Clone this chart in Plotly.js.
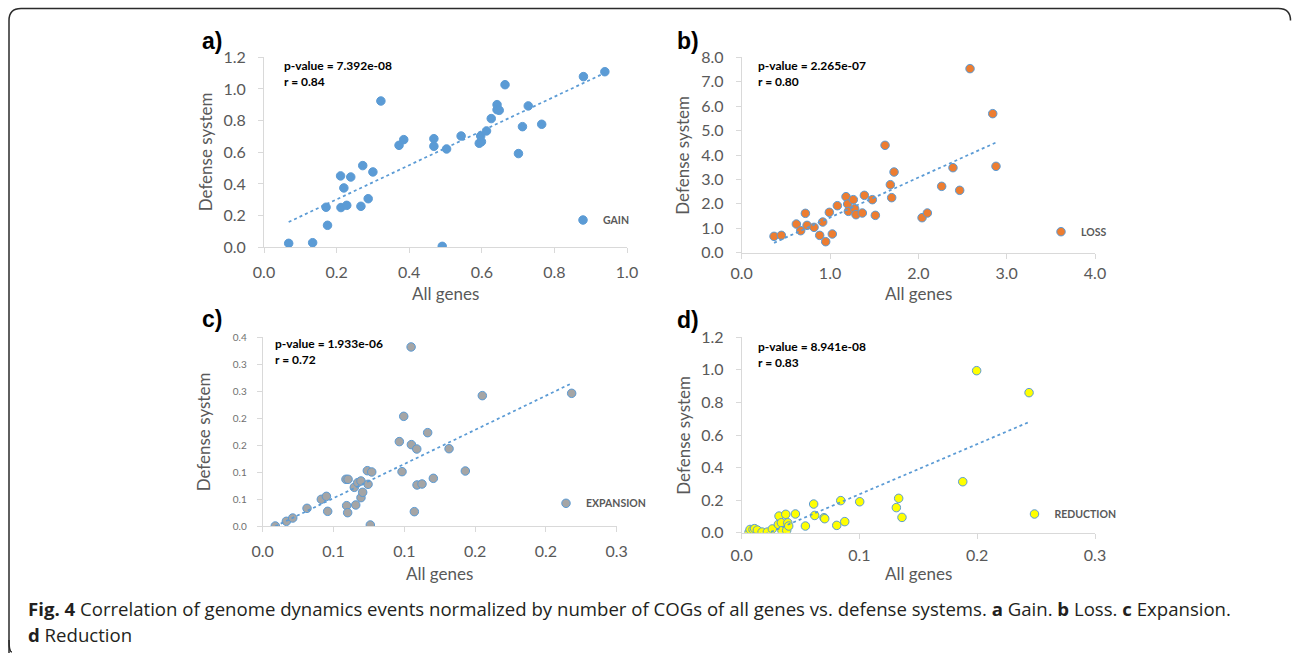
<!DOCTYPE html>
<html>
<head>
<meta charset="utf-8">
<script src="https://cdn.plot.ly/plotly-3.0.1.min.js"></script>
<style>html,body{margin:0;padding:0;background:#fff;}#chart{width:1292px;height:653px;}</style>
</head>
<body>
<div id="chart"></div>
<script>
// ---------------- data ----------------
const gainX = [0.068,0.134,0.175,0.171,0.212,0.228,0.211,0.220,0.239,0.267,0.272,0.287,0.300,0.322,0.372,0.385,0.468,0.468,0.491,0.503,0.543,0.593,0.599,0.597,0.613,0.626,0.642,0.642,0.648,0.664,0.701,0.712,0.728,0.765,0.880,0.939];
const gainY = [0.025,0.029,0.139,0.253,0.251,0.265,0.451,0.375,0.444,0.259,0.516,0.307,0.476,0.924,0.644,0.680,0.686,0.638,0.006,0.621,0.703,0.657,0.667,0.703,0.735,0.813,0.901,0.869,0.865,1.027,0.592,0.762,0.893,0.777,1.078,1.109];

const lossX = [0.366,0.449,0.619,0.668,0.721,0.740,0.819,0.883,0.917,0.951,0.992,1.026,1.083,1.181,1.200,1.208,1.264,1.279,1.294,1.366,1.389,1.479,1.513,1.623,1.683,1.698,1.725,2.042,2.102,2.264,2.392,2.468,2.585,2.842,2.879];
const lossY = [0.669,0.710,1.174,0.901,1.611,1.119,1.038,0.710,1.256,0.451,1.652,0.765,1.925,2.294,1.993,1.693,2.171,1.802,1.556,1.625,2.348,2.171,1.529,4.396,2.785,2.253,3.304,1.433,1.625,2.717,3.481,2.553,7.536,5.693,3.536];

const expX = [0.0089,0.0167,0.0212,0.0313,0.0414,0.0450,0.0459,0.0588,0.0603,0.0593,0.0600,0.0647,0.0657,0.0671,0.0694,0.0694,0.0706,0.0739,0.0744,0.0770,0.0760,0.0965,0.0984,0.0996,0.1048,0.1050,0.1071,0.1088,0.1090,0.1125,0.1165,0.1205,0.1316,0.1431,0.1551,0.2182];
const expY = [0.0000,0.0087,0.0148,0.0328,0.0495,0.0550,0.0272,0.0866,0.0866,0.0377,0.0247,0.0717,0.0390,0.0804,0.0835,0.0526,0.0625,0.1026,0.0773,0.1002,0.0019,0.1565,0.1008,0.2034,0.3321,0.1509,0.0266,0.1428,0.0761,0.0779,0.1731,0.0884,0.1434,0.1020,0.2418,0.2461];

const redX = [0.0062,0.0071,0.0096,0.0110,0.0133,0.0173,0.0218,0.0260,0.0311,0.0317,0.0337,0.0342,0.0374,0.0382,0.0391,0.0399,0.0456,0.0541,0.0611,0.0620,0.0699,0.0705,0.0807,0.0841,0.0875,0.1002,0.1313,0.1333,0.1361,0.1877,0.1995,0.2440];
const redY = [0.002,0.020,0.020,0.025,0.016,0.004,0.004,0.023,0.051,0.102,0.061,0.012,0.113,0.014,0.061,0.041,0.115,0.041,0.176,0.106,0.092,0.086,0.045,0.197,0.068,0.190,0.154,0.211,0.094,0.313,0.995,0.860];

const seriesNames = ['GAIN','LOSS','EXPANSION','REDUCTION'];
const panelLabels = ['a)','b)','c)','d)'];
const pValues = ['7.392e-08','2.265e-07','1.933e-06','8.941e-08'];
const rValues = ['0.84','0.80','0.72','0.83'];

// panel c uses rounded (1 decimal) labels on 0.05 steps
const cYTickVals = [0,0.05,0.10,0.15,0.20,0.25,0.30,0.35];
const cYTickText = ['0.0','0.1','0.1','0.2','0.2','0.3','0.3','0.4'];
const cXTickVals = [0,0.05,0.10,0.15,0.20,0.25];
const cXTickText = ['0.0','0.1','0.1','0.2','0.2','0.3'];

const caption1 = '<b>Fig. 4</b> Correlation of genome dynamics events normalized by number of COGs of all genes vs. defense systems. <b>a</b> Gain. <b>b</b> Loss. <b>c</b> Expansion.';
const caption2 = '<b>d</b> Reduction';

// ---------------- layout helpers ----------------
const W = 1292, H = 653;
const fx = p => p / W;
const fy = p => 1 - p / H;

// plot-area boxes in pixels [left, right, top, bottom]
const boxes = [
  [264, 627, 57.3, 247.3],
  [741.7, 1095, 57.3, 252.7],
  [262.7, 616.7, 337.3, 526],
  [741.7, 1095, 337.3, 532.7]
];
const xTitleY = [293, 293, 573, 573];
const xStandoff = [5, 1, 6, 3];

function fit(xs, ys) {
  const n = xs.length;
  let sx = 0, sy = 0, sxx = 0, sxy = 0;
  for (let i = 0; i < n; i++) { sx += xs[i]; sy += ys[i]; sxx += xs[i]*xs[i]; sxy += xs[i]*ys[i]; }
  const b = (n*sxy - sx*sy) / (n*sxx - sx*sx);
  const a = (sy - b*sx) / n;
  const x0 = Math.min(...xs), x1 = Math.max(...xs);
  return {x: [x0, x1], y: [a + b*x0, a + b*x1]};
}

const BLUE = '#5B9BD5';
const markerStyles = [
  {color: BLUE, size: 8.5, line: {color: BLUE, width: 1}},
  {color: '#ED7D31', size: 8.5, line: {color: BLUE, width: 1}},
  {color: '#A5A5A5', size: 8.5, line: {color: BLUE, width: 1}},
  {color: '#FFFF00', size: 8.5, line: {color: BLUE, width: 1}}
];
const dataSets = [[gainX, gainY], [lossX, lossY], [expX, expY], [redX, redY]];
const axisIds = [['x','y'], ['x2','y2'], ['x3','y3'], ['x4','y4']];
const legendIds = ['legend','legend2','legend3','legend4'];

const traces = [];
dataSets.forEach((d, i) => {
  traces.push({
    type: 'scatter', mode: 'markers', x: d[0], y: d[1],
    xaxis: axisIds[i][0], yaxis: axisIds[i][1],
    name: seriesNames[i], legend: legendIds[i],
    marker: markerStyles[i], hoverinfo: 'x+y'
  });
  const f = fit(d[0], d[1]);
  traces.push({
    type: 'scatter', mode: 'lines', x: f.x, y: f.y,
    xaxis: axisIds[i][0], yaxis: axisIds[i][1],
    showlegend: false, hoverinfo: 'skip',
    line: {color: BLUE, width: 1.75, dash: 'dot'}
  });
});

const GRAY = '#595959';
const tickFont = {family: 'Lato, sans-serif', size: 16, color: GRAY};
function xAxis(i, extra) {
  const b = boxes[i];
  return Object.assign({
    domain: [fx(b[0]), fx(b[1])], anchor: axisIds[i][1],
    showline: true, linecolor: '#d9d9d9', linewidth: 1,
    ticks: 'outside', ticklen: 5, tickcolor: '#d9d9d9', tickwidth: 1,
    showgrid: false, zeroline: false, tickfont: tickFont,
    ticklabelstandoff: xStandoff[i], fixedrange: true
  }, extra);
}
function yAxis(i, extra) {
  const b = boxes[i];
  return Object.assign({
    domain: [fy(b[3]), fy(b[2])], anchor: axisIds[i][0],
    showline: true, linecolor: '#d9d9d9', linewidth: 1,
    ticks: 'outside', ticklen: 5, tickcolor: '#d9d9d9', tickwidth: 1,
    showgrid: false, zeroline: false, tickfont: tickFont,
    ticklabelstandoff: 9, fixedrange: true
  }, extra);
}

const layout = {
  width: W, height: H,
  margin: {l: 0, r: 0, t: 0, b: 0},
  paper_bgcolor: '#fff', plot_bgcolor: 'rgba(0,0,0,0)',
  font: {family: 'Lato, sans-serif', color: GRAY},
  xaxis:  xAxis(0, {range: [0, 1.0], dtick: 0.2, tick0: 0, tickformat: '.1f'}),
  yaxis:  yAxis(0, {range: [0, 1.2], dtick: 0.2, tick0: 0, tickformat: '.1f'}),
  xaxis2: xAxis(1, {range: [0, 4.0], dtick: 1, tick0: 0, tickformat: '.1f'}),
  yaxis2: yAxis(1, {range: [0, 8.0], dtick: 1, tick0: 0, tickformat: '.1f'}),
  xaxis3: xAxis(2, {range: [0, 0.25], tickmode: 'array', tickvals: cXTickVals, ticktext: cXTickText}),
  yaxis3: yAxis(2, {range: [0, 0.35], tickmode: 'array', tickvals: cYTickVals, ticktext: cYTickText,
                    tickfont: {family: 'Lato, sans-serif', size: 10, color: '#6f6f6f'}, ticklabelstandoff: 8}),
  xaxis4: xAxis(3, {range: [0, 0.3], dtick: 0.1, tick0: 0, tickformat: '.1f'}),
  yaxis4: yAxis(3, {range: [0, 1.2], dtick: 0.2, tick0: 0, tickformat: '.1f'}),
  annotations: [],
  shapes: []
};

// legends (one per panel)
const legendPos = [[563, 220], [1041, 231.7], [546, 503.3], [1014.5, 514]];
legendIds.forEach((id, i) => {
  layout[id] = {
    x: fx(legendPos[i][0]), y: fy(legendPos[i][1]), xanchor: 'left', yanchor: 'middle',
    xref: 'paper', yref: 'paper',
    bgcolor: 'rgba(0,0,0,0)', borderwidth: 0, itemwidth: 30,
    font: {family: 'Lato, sans-serif', size: 10.5, color: GRAY, weight: 'bold'},
    itemclick: false, itemdoubleclick: false
  };
});

// panel labels, stats text, axis titles
const labelPos = [[212, 41], [688, 41], [212, 319], [688, 320]];
const statPos = [[282, 64.3], [755.7, 64.3], [273, 341.7], [755.7, 345]];
boxes.forEach((b, i) => {
  layout.annotations.push({
    xref: 'paper', yref: 'paper', x: fx(labelPos[i][0]), y: fy(labelPos[i][1]),
    xanchor: 'center', yanchor: 'middle', showarrow: false,
    text: '<b>' + panelLabels[i] + '</b>',
    font: {family: 'Liberation Sans, Arial, sans-serif', size: 23, color: '#000'}
  });
  layout.annotations.push({
    xref: 'paper', yref: 'paper', x: fx(statPos[i][0]), y: fy(statPos[i][1]),
    xanchor: 'left', yanchor: 'top', showarrow: false, align: 'left',
    yshift: 8,
    text: '<b>p-value = ' + pValues[i] + '<br>r = ' + rValues[i] + '</b>',
    font: {family: 'Lato, sans-serif', size: 12, color: '#000'}
  });
  layout.annotations.push({
    xref: 'paper', yref: 'paper', x: fx((b[0] + b[1]) / 2), y: fy(xTitleY[i]),
    xanchor: 'center', yanchor: 'middle', showarrow: false,
    text: 'All genes', font: {family: 'Lato, sans-serif', size: 17, color: GRAY}
  });
  layout.annotations.push({
    xref: 'paper', yref: 'paper', x: fx(b[0] - 59), y: fy((b[2] + b[3]) / 2),
    xanchor: 'center', yanchor: 'middle', showarrow: false, textangle: -90,
    text: 'Defense system', font: {family: 'Lato, sans-serif', size: 17, color: GRAY}
  });
});

// caption
layout.annotations.push({
  xref: 'paper', yref: 'paper', x: fx(26), y: fy(608), xanchor: 'left', yanchor: 'middle',
  showarrow: false, align: 'left', text: caption1,
  font: {family: 'Open Sans, sans-serif', size: 18.6, color: '#231f20'}
});
layout.annotations.push({
  xref: 'paper', yref: 'paper', x: fx(26), y: fy(634), xanchor: 'left', yanchor: 'middle',
  showarrow: false, align: 'left', text: caption2,
  font: {family: 'Open Sans, sans-serif', size: 18.6, color: '#231f20'}
});

// rounded frame
(function () {
  const L = 9, T = 8.5, R = 1290.5, B = 652, r = 12;
  const X = fx, Y = fy;
  const path = 'M ' + X(L) + ',' + Y(B + 5) +
    ' L ' + X(L) + ',' + Y(T + r) +
    ' Q ' + X(L) + ',' + Y(T) + ' ' + X(L + r) + ',' + Y(T) +
    ' L ' + X(R - r) + ',' + Y(T) +
    ' Q ' + X(R) + ',' + Y(T) + ' ' + X(R) + ',' + Y(T + r);
  layout.shapes.push({type: 'path', xref: 'paper', yref: 'paper', path: path,
    line: {color: '#2b2b2b', width: 1.5}});
  const path2 = 'M ' + X(L) + ',' + Y(B - r) +
    ' Q ' + X(L) + ',' + Y(B) + ' ' + X(L + 3) + ',' + Y(B);
  layout.shapes.push({type: 'path', xref: 'paper', yref: 'paper', path: path2,
    line: {color: '#2b2b2b', width: 1.5}});
})();

Plotly.newPlot('chart', traces, layout, {displayModeBar: false});
</script>
</body>
</html>
